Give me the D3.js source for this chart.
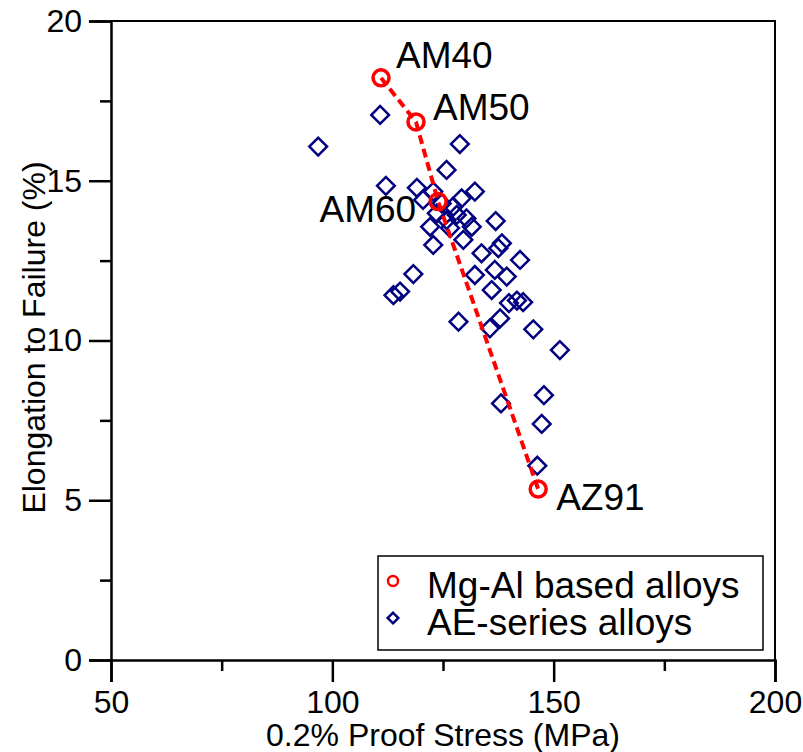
<!DOCTYPE html>
<html>
<head>
<meta charset="utf-8">
<script src="https://cdn.jsdelivr.net/npm/d3@7"></script>
<style>
  html, body { margin: 0; padding: 0; background: #fff; }
  svg text { font-family: "Liberation Sans", Arial, sans-serif; fill: #000; }
</style>
</head>
<body>
<svg id="chart" width="803" height="752"></svg>
<script>
// ---- data ----
const mgAlNames = ["AM40", "AM50", "AM60", "AZ91"];
const mgAlStress = [111.0, 118.9, 123.9, 146.5];
const mgAlElong  = [18.22, 16.84, 14.35, 5.35];

const aeStress = [96.8, 110.8, 128.8, 125.8, 112.1, 119.1, 132.2, 120.5, 122.8, 129.2,
                  124.7, 127.3, 123.6, 128.1, 130.3, 125.8, 122.1, 131.5, 126.6, 136.9,
                  129.6, 122.8, 138.3, 137.5, 133.7, 142.4, 118.3, 132.2, 136.7, 139.4,
                  136.0, 113.8, 115.3, 141.7, 139.9, 143.1, 128.5, 135.6, 137.9, 145.4,
                  151.4, 147.8, 138.1, 147.3, 146.3];
const aeElong  = [16.07, 17.06, 16.15, 15.34, 14.84, 14.78, 14.66, 14.40, 14.66, 14.45,
                  14.29, 14.19, 13.98, 13.93, 13.82, 13.77, 13.56, 13.56, 13.52, 13.74,
                  13.15, 12.99, 13.04, 12.89, 12.73, 12.52, 12.08, 12.05, 12.21, 12.00,
                  11.58, 11.42, 11.53, 11.25, 11.17, 11.20, 10.59, 10.38, 10.69, 10.35,
                  9.70, 8.29, 8.03, 7.39, 6.08];

const xTicks = [50, 100, 150, 200];
const xMinor = [75, 125, 175];
const yTicks = [0, 5, 10, 15, 20];
const yMinor = [2.5, 7.5, 12.5, 17.5];
const legendLabels = ["Mg-Al based alloys", "AE-series alloys"];
const xTitle = "0.2% Proof Stress (MPa)";
const yTitle = "Elongation to Failure (%)";

// ---- layout ----
const L = 111, R = 775, T = 21, B = 660;
const RED = "#ff0000", NAVY = "#000080";
const svg = d3.select("#chart");

const x = d3.scaleLinear().domain([50, 200]).range([L, R]);
const y = d3.scaleLinear().domain([0, 20]).range([B, T]);

// frame (top/right)
svg.append("path")
  .attr("d", `M${L},${T}H${R}V${B}`)
  .attr("fill", "none").attr("stroke", "#000").attr("stroke-width", 2);

// x axis
svg.append("g").attr("transform", `translate(0,${B})`)
  .call(d3.axisBottom(x).tickValues(xTicks).tickSize(22).tickPadding(8).tickFormat(d3.format("d")));
svg.append("g").attr("transform", `translate(0,${B})`)
  .call(d3.axisBottom(x).tickValues(xMinor).tickSize(11).tickFormat(""))
  .call(g => g.select(".domain").remove());
// y axis
svg.append("g").attr("transform", `translate(${L},0)`)
  .call(d3.axisLeft(y).tickValues(yTicks).tickSize(22).tickPadding(7).tickFormat(d3.format("d")));
svg.append("g").attr("transform", `translate(${L},0)`)
  .call(d3.axisLeft(y).tickValues(yMinor).tickSize(11).tickFormat(""))
  .call(g => g.select(".domain").remove());

svg.selectAll(".domain").attr("stroke-width", 2.5).attr("stroke", "#000");
svg.selectAll(".tick line").attr("stroke-width", 2.5).attr("stroke", "#000");
svg.selectAll(".tick text").attr("font-size", 32).attr("font-family", "Liberation Sans, Arial, sans-serif").attr("fill", "#000");

// titles
svg.append("text").attr("x", (L + R) / 2).attr("y", 746)
  .attr("text-anchor", "middle").attr("font-size", 32).text(xTitle);
svg.append("text").attr("transform", `translate(45,${(T + B) / 2 - 3}) rotate(-90)`)
  .attr("text-anchor", "middle").attr("font-size", 32).text(yTitle);

// AE series diamonds
const aeData = aeStress.map((s, i) => ({ s, e: aeElong[i] }));
svg.append("g").selectAll("path").data(aeData).join("path")
  .attr("d", d3.symbol().type(d3.symbolSquare2).size(200)())
  .attr("transform", d => `translate(${x(d.s)},${y(d.e)}) rotate(45)`)
  .attr("fill", "none").attr("stroke", NAVY).attr("stroke-width", 2.5);

// Mg-Al dashed line and circles
const mgData = mgAlStress.map((s, i) => ({ s, e: mgAlElong[i], n: mgAlNames[i] }));
svg.append("path").datum(mgData)
  .attr("d", d3.line().x(d => x(d.s)).y(d => y(d.e)))
  .attr("fill", "none").attr("stroke", RED).attr("stroke-width", 4)
  .attr("stroke-dasharray", "9,5");
svg.append("g").selectAll("circle").data(mgData).join("circle")
  .attr("cx", d => x(d.s)).attr("cy", d => y(d.e)).attr("r", 8)
  .attr("fill", "none").attr("stroke", RED).attr("stroke-width", 3.5);

// annotations
const ann = { AM40: [15, -10, "start"], AM50: [17, -2, "start"], AM60: [-22, 20, "end"], AZ91: [18, 21, "start"] };
svg.append("g").selectAll("text").data(mgData).join("text")
  .attr("x", d => x(d.s) + ann[d.n][0])
  .attr("y", d => y(d.e) + ann[d.n][1])
  .attr("text-anchor", d => ann[d.n][2])
  .attr("font-size", 37).text(d => d.n);

// legend
const lg = svg.append("g");
lg.append("rect").attr("x", 378).attr("y", 556).attr("width", 385).attr("height", 94)
  .attr("fill", "#fff").attr("stroke", "#000").attr("stroke-width", 1.5);
lg.append("circle").attr("cx", 393).attr("cy", 581).attr("r", 5)
  .attr("fill", "none").attr("stroke", RED).attr("stroke-width", 2.5);
lg.append("path").attr("d", d3.symbol().type(d3.symbolSquare2).size(72)())
  .attr("transform", "translate(393,618) rotate(45)")
  .attr("fill", "none").attr("stroke", NAVY).attr("stroke-width", 2.5);
lg.selectAll("text").data(legendLabels).join("text")
  .attr("x", 427).attr("y", (d, i) => 598 + i * 37)
  .attr("font-size", 37).text(d => d);
</script>
</body>
</html>
